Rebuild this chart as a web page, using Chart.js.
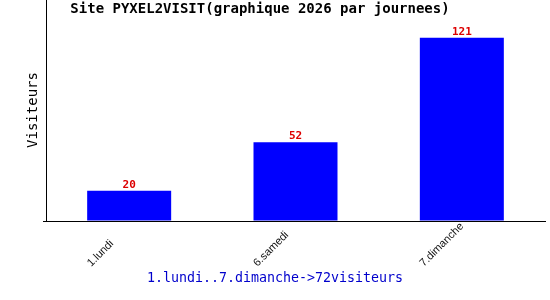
<!DOCTYPE html>
<html>
<head>
<meta charset="utf-8">
<script src="https://cdn.jsdelivr.net/npm/chart.js@4/dist/chart.umd.min.js"></script>
<style>
html,body{margin:0;padding:0;background:#fff;}
canvas{display:block;}
</style>
</head>
<body>
<canvas id="c" width="550" height="300"></canvas>
<script>
const categories = ["1.lundi", "6.samedi", "7.dimanche"];
const visiteurs = [20, 52, 121];
const chartTitle = "Site PYXEL2VISIT(graphique 2026 par journees)";
const yTitle = "Visiteurs";
const xTitle = "1.lundi..7.dimanche->72visiteurs";
const yMax = 146;

const textPlugin = {
  id: 'textPlugin',
  afterDatasetsDraw(chart) {
    const ctx = chart.ctx;
    const meta = chart.getDatasetMeta(0);
    ctx.save();
    ctx.fillStyle = '#dd0000';
    ctx.font = 'bold 11px "DejaVu Sans Mono"';
    ctx.textAlign = 'center';
    ctx.textBaseline = 'alphabetic';
    meta.data.forEach((bar, i) => {
      ctx.fillText(String(visiteurs[i]), bar.x, bar.y - 3);
    });
    ctx.restore();
  },
  afterDraw(chart) {
    const ctx = chart.ctx;
    const xs = chart.scales.x;
    ctx.save();
    ctx.fillStyle = '#111';
    ctx.font = '11px "Liberation Sans"';
    ctx.textAlign = 'left';
    ctx.textBaseline = 'alphabetic';
    categories.forEach((lab, i) => {
      const px = xs.getPixelForTick(i);
      ctx.save();
      ctx.translate(px - 38, xs.top + 46);
      ctx.rotate(-Math.PI / 4);
      ctx.fillText(lab, 0, 0);
      ctx.restore();
    });
    ctx.fillStyle = '#000';
    ctx.font = 'bold 14px "DejaVu Sans Mono"';
    ctx.textAlign = 'center';
    ctx.fillText(chartTitle, 260, 13);
    ctx.font = '14px "DejaVu Sans Mono"';
    ctx.save();
    ctx.translate(37, 110);
    ctx.rotate(-Math.PI / 2);
    ctx.fillText(yTitle, 0, 0);
    ctx.restore();
    ctx.fillStyle = '#0000cc';
    ctx.font = '13.3px "DejaVu Sans Mono"';
    ctx.fillText(xTitle, 275, 282);
    ctx.restore();
  }
};

new Chart(document.getElementById('c'), {
  type: 'bar',
  data: {
    labels: categories,
    datasets: [{
      data: visiteurs,
      backgroundColor: '#0000ff',
      borderWidth: 0,
      barPercentage: 0.505,
      categoryPercentage: 1
    }]
  },
  options: {
    responsive: false,
    devicePixelRatio: 1,
    animation: false,
    layout: { padding: { left: 0, right: 5, top: 0, bottom: 0 } },
    plugins: { legend: { display: false }, tooltip: { enabled: false }, title: { display: false } },
    scales: {
      x: {
        offset: true,
        grid: { display: false, drawTicks: false },
        border: { display: true, color: '#000', width: 1 },
        ticks: { display: false },
        afterFit(scale) { scale.height = 79; }
      },
      y: {
        min: 0, max: yMax,
        grid: {
          drawOnChartArea: false,
          drawTicks: true,
          tickLength: 3,
          color: (c) => (c.tick && c.tick.value === 0 ? '#000' : 'rgba(0,0,0,0)')
        },
        border: { display: true, color: '#000', width: 1 },
        ticks: { display: false, stepSize: 146 },
        afterFit(scale) { scale.width = 46; }
      }
    }
  },
  plugins: [textPlugin]
});
</script>
</body>
</html>
